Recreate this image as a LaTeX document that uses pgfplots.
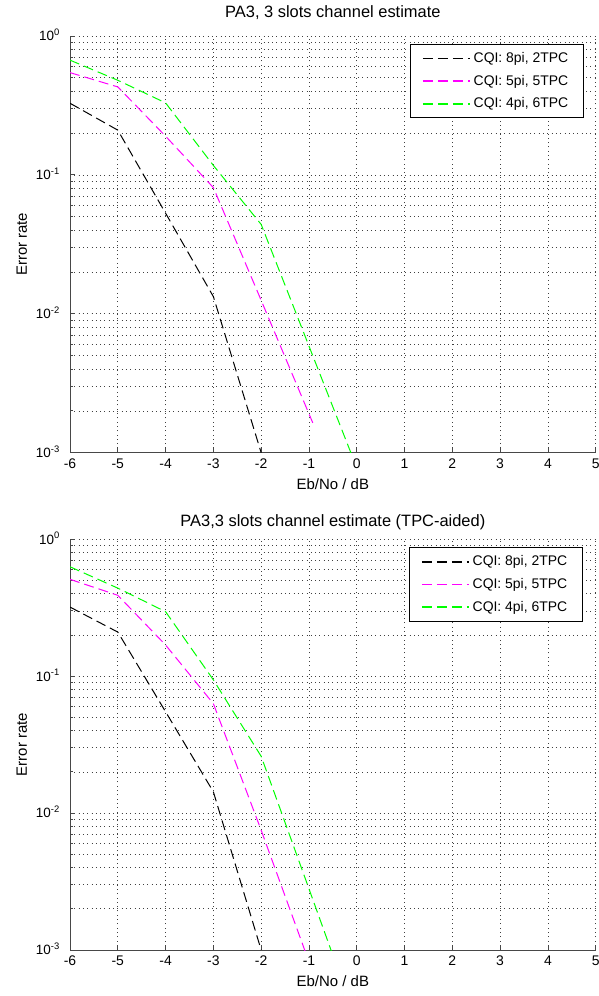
\documentclass[border=0pt]{standalone}
\usepackage{pgfplots}
\pgfplotsset{compat=1.18}
\usepackage{fontspec}
\setmainfont{Liberation Sans}
\definecolor{mgreen}{RGB}{0,255,0}
\definecolor{mmag}{RGB}{255,0,255}
\definecolor{mblack}{RGB}{0,0,0}
\pgfplotsset{
  legend image code/.code={\draw[#1, line width=1.5bp] (0bp,0bp) -- (47bp,0bp);},
  every axis plot/.append style={line width=1bp, dash pattern=on 10bp off 5bp},
  every axis x label/.style={at={(axis description cs:0.5,0)}, anchor=base, yshift=-36.5bp, inner sep=0pt, font=\fontsize{15}{17}\selectfont},
  every axis y label/.style={at={(axis description cs:-0.0818,0.5)}, rotate=90, anchor=base, inner sep=0pt, font=\fontsize{15}{17}\selectfont},
}
\begin{document}
\fontsize{13.5}{15}\selectfont
\begin{tikzpicture}
\useasboundingbox (0bp,0bp) rectangle (599bp,996bp);
% ---------- top ----------
\begin{axis}[
    scale only axis, width=525.7bp, anchor=south west,
    xmin=-6, xmax=5, ymin=1e-3, ymax=1, ymode=log,
    xtick={-6,-5,-4,-3,-2,-1,0,1,2,3,4,5},
    xticklabels={-6,-5,-4,-3,-2,-1,0,1,2,3,4,5},
    ytick={1e-3,1e-2,1e-1,1},
    yticklabels={10\textsuperscript{-3},10\textsuperscript{-2},10\textsuperscript{-1},10\textsuperscript{0}},
    axis x line*=bottom, axis y line*=left,
    axis line style={-, draw=black!72, line width=1bp},
    tick align=inside, major tick length=5bp, minor tick length=3bp,
    tick style={black!72, line width=0.8bp},
    xmajorgrids, ymajorgrids, yminorgrids,
    minor grid style={black!75, line width=0.7bp, dash pattern=on 0.9bp off 3.4bp},
    major grid style={black!75, line width=0.7bp, dash pattern=on 0.9bp off 3.4bp},
    xticklabel style={font=\fontsize{14}{15}\selectfont, inner sep=0pt, anchor=north, yshift=-6bp},
    yticklabel style={font=\fontsize{13.5}{15}\selectfont, inner sep=0pt, anchor=base east, xshift=-10bp, yshift=-4.8bp},
    xlabel={Eb/No / dB}, ylabel={Error rate},
    legend style={at={(1,1)}, anchor=north east, xshift=-12bp, yshift=-8bp,
      draw=black, line width=0.9bp, fill=white,
      inner xsep=12bp, inner ysep=5bp,
      font=\fontsize{14}{15}\selectfont,
      row sep=4.5bp,
      nodes={inner sep=3bp}},
    legend cell align=left,
  at={(70bp,543.3bp)}, height=416.7bp,
  title={PA3, 3 slots channel estimate},
  title style={at={(0.5,1)}, anchor=base, yshift=13bp, inner sep=0pt, font=\fontsize{16.5}{18}\selectfont}]
\addplot[draw=mblack] coordinates {(-6,0.328) (-5,0.21) (-4,0.053) (-3,0.0133) (-2,0.001)};
\addlegendentry{CQI: 8pi, 2TPC}
\addplot[draw=mmag] coordinates {(-6,0.545) (-5,0.43) (-4,0.19) (-3,0.081) (-2,0.0125) (-0.92,0.00164)};
\addlegendentry{CQI: 5pi, 5TPC}
\addplot[draw=mgreen] coordinates {(-6,0.67) (-5,0.48) (-4,0.33) (-3,0.117) (-2,0.044) (0,0.00078)};
\addlegendentry{CQI: 4pi, 6TPC}
\end{axis}
% ---------- bottom ----------
\begin{axis}[
    scale only axis, width=525.7bp, anchor=south west,
    xmin=-6, xmax=5, ymin=1e-3, ymax=1, ymode=log,
    xtick={-6,-5,-4,-3,-2,-1,0,1,2,3,4,5},
    xticklabels={-6,-5,-4,-3,-2,-1,0,1,2,3,4,5},
    ytick={1e-3,1e-2,1e-1,1},
    yticklabels={10\textsuperscript{-3},10\textsuperscript{-2},10\textsuperscript{-1},10\textsuperscript{0}},
    axis x line*=bottom, axis y line*=left,
    axis line style={-, draw=black!72, line width=1bp},
    tick align=inside, major tick length=5bp, minor tick length=3bp,
    tick style={black!72, line width=0.8bp},
    xmajorgrids, ymajorgrids, yminorgrids,
    minor grid style={black!75, line width=0.7bp, dash pattern=on 0.9bp off 3.4bp},
    major grid style={black!75, line width=0.7bp, dash pattern=on 0.9bp off 3.4bp},
    xticklabel style={font=\fontsize{14}{15}\selectfont, inner sep=0pt, anchor=north, yshift=-6bp},
    yticklabel style={font=\fontsize{13.5}{15}\selectfont, inner sep=0pt, anchor=base east, xshift=-10bp, yshift=-4.8bp},
    xlabel={Eb/No / dB}, ylabel={Error rate},
    legend style={at={(1,1)}, anchor=north east, xshift=-13bp, yshift=-8bp,
      draw=black, line width=0.9bp, fill=white,
      inner xsep=12bp, inner ysep=5bp,
      font=\fontsize{14}{15}\selectfont,
      row sep=4.5bp,
      nodes={inner sep=3bp}},
    legend cell align=left,
  at={(70bp,46bp)}, height=410.7bp,
  title={PA3,3 slots channel estimate (TPC-aided)},
  title style={at={(0.5,1)}, anchor=base, yshift=6.6bp, inner sep=0pt, font=\fontsize{16.5}{18}\selectfont}]
\addplot[draw=mblack] coordinates {(-6,0.32) (-5,0.21) (-4,0.055) (-3,0.0143) (-2,0.001)};
\addlegendentry{CQI: 8pi, 2TPC}
\addplot[draw=mmag] coordinates {(-6,0.51) (-5,0.39) (-4,0.169) (-3,0.063) (-2,0.0075) (-1,0.00082)};
\addlegendentry{CQI: 5pi, 5TPC}
\addplot[draw=mgreen] coordinates {(-6,0.63) (-5,0.44) (-4,0.296) (-3,0.094) (-2,0.026) (-1,0.0028) (0,0.0003)};
\addlegendentry{CQI: 4pi, 6TPC}
\end{axis}
\end{tikzpicture}
\end{document}
